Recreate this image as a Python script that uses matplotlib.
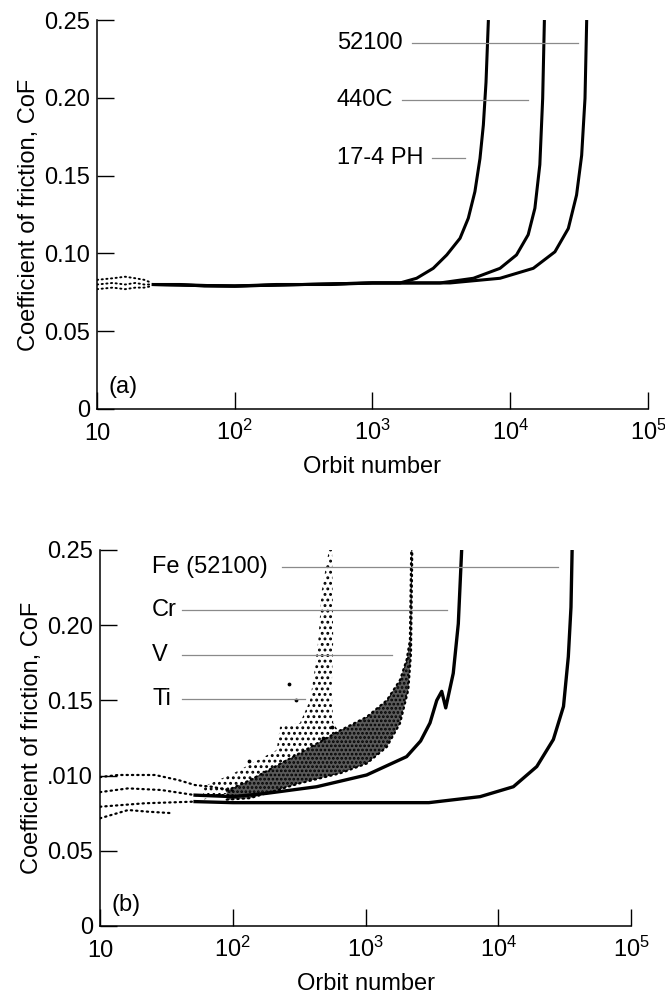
import matplotlib
matplotlib.use("Agg")
import matplotlib.pyplot as plt

plt.rcParams['font.family'] = ['Liberation Sans', 'DejaVu Sans']
plt.rcParams['mathtext.fontset'] = 'custom'
plt.rcParams['mathtext.rm'] = 'Liberation Sans'
plt.rcParams['hatch.linewidth'] = 1.3

# ---------------------------------------------------------------
# data
# ---------------------------------------------------------------
xticks = [10, 1e2, 1e3, 1e4, 1e5]
xtick_labels = ['10', r'$\mathregular{10^2}$', r'$\mathregular{10^3}$',
                r'$\mathregular{10^4}$', r'$\mathregular{10^5}$']
yticks = [0, 0.05, 0.10, 0.15, 0.20, 0.25]
ytick_labels_a = ['0', '0.05', '0.10', '0.15', '0.20', '0.25']
ytick_labels_b = ['0', '0.05', '.010', '0.15', '0.20', '0.25']

# (a) steels
a52100_x = [25, 40, 60, 100, 200, 500, 1000, 1585, 2090, 2760, 3460, 4320, 4960, 5540, 6030, 6380, 6670, 6940]
a52100_y = [0.080, 0.080, 0.079, 0.079, 0.080, 0.080, 0.081, 0.081, 0.084, 0.0904, 0.099, 0.1097, 0.1226, 0.1397, 0.161, 0.1825, 0.210, 0.250]
a440c_x = [25, 100, 1000, 3090, 5400, 8430, 11100, 13500, 15100, 16400, 17200, 17700]
a440c_y = [0.080, 0.079, 0.081, 0.081, 0.084, 0.0904, 0.099, 0.112, 0.129, 0.157, 0.1997, 0.250]
a174ph_x = [25, 100, 1000, 3660, 8430, 14700, 21100, 26400, 30300, 33000, 34900, 35900]
a174ph_y = [0.080, 0.079, 0.081, 0.081, 0.084, 0.0904, 0.101, 0.116, 0.1375, 0.163, 0.1997, 0.250]
# sparse start-up points (10-25 orbits)
a_start_x = [10, 13, 16, 19, 22, 25]
a_start_hi = [0.083, 0.084, 0.085, 0.084, 0.083, 0.081]
a_start_mid = [0.080, 0.081, 0.080, 0.081, 0.080, 0.080]
a_start_lo = [0.077, 0.078, 0.077, 0.078, 0.078, 0.079]

# (b) coatings -- sparse start-up rows (10-100 orbits)
b_row1_x = [10, 13.7, 26, 39, 52, 69, 100]
b_row1_y = [0.099, 0.1004, 0.1004, 0.097, 0.0937, 0.0926, 0.090]
b_row2_x = [10, 16.3, 29, 52, 100]
b_row2_y = [0.089, 0.0915, 0.0904, 0.087, 0.087]
b_row3_x = [10, 21.8, 52]
b_row3_y = [0.0793, 0.0816, 0.0827]
b_row4_x = [10, 16.3, 23, 35]
b_row4_y = [0.0716, 0.0771, 0.076, 0.075]
# solid bands
fe_x = [52, 100, 300, 1285, 3000, 7300, 13000, 19500, 26000, 31000, 33700, 35300, 36000]
fe_y = [0.0827, 0.082, 0.082, 0.082, 0.082, 0.086, 0.0926, 0.106, 0.124, 0.146, 0.179, 0.212, 0.250]
cr_x = [52, 100, 180, 429, 1020, 2040, 2600, 3060, 3440, 3750, 4020, 4580, 5000, 5300]
cr_y = [0.087, 0.086, 0.0882, 0.0926, 0.1004, 0.1126, 0.123, 0.135, 0.150, 0.156, 0.145, 0.168, 0.201, 0.250]
# dense V scatter band (upper / lower edge)
v_up_x = [90, 135, 321, 643, 1020, 1445, 1820, 2040, 2160, 2210]
v_up_y = [0.090, 0.097, 0.115, 0.130, 0.139, 0.150, 0.1636, 0.177, 0.190, 0.250]
v_lo_x = [90, 135, 321, 643, 1020, 1445, 1820, 2100, 2200, 2250]
v_lo_y = [0.084, 0.085, 0.0949, 0.1015, 0.108, 0.119, 0.1348, 0.157, 0.181, 0.250]
# sparse Ti scatter cloud (upper-left / lower-right edge)
ti_up_x = [60, 101, 214, 227, 321, 382, 417, 441, 468, 530]
ti_up_y = [0.0926, 0.1015, 0.117, 0.1325, 0.135, 0.150, 0.172, 0.190, 0.223, 0.250]
ti_lo_x = [60, 135, 321, 643, 571, 556, 571, 560]
ti_lo_y = [0.084, 0.092, 0.112, 0.128, 0.135, 0.157, 0.190, 0.250]
ti_out_x = [132, 267, 300, 480, 560]
ti_out_y = [0.110, 0.161, 0.150, 0.125, 0.132]

# labels + leader lines: (text, text x, y, line x0, line x1)
labels_a = [('52100', 552, 0.235, 1936, 31000),
            ('440C', 552, 0.1986, 1637, 13460),
            ('17-4 PH', 552, 0.161, 2705, 4700)]
labels_b = [('Fe (52100)', 24.7, 0.2387, 235, 28000),
            ('Cr', 24.7, 0.210, 41.5, 4090),
            ('V', 24.7, 0.180, 41.5, 1592),
            ('Ti', 24.7, 0.1507, 41.5, 350)]

FS = 17
dots = (0, (0.6, 1.8))

fig = plt.figure(figsize=(6.65, 9.96), dpi=100)
ax_a = fig.add_axes([0.1459, 0.5894, 0.8285, 0.3905])
ax_b = fig.add_axes([0.1504, 0.0703, 0.7985, 0.3775])


def style_axes(ax, ylabels):
    ax.set_xscale('log')
    ax.set_xlim(10, 1e5)
    ax.set_ylim(0, 0.25)
    ax.spines['top'].set_visible(False)
    ax.spines['right'].set_visible(False)
    for s in ('left', 'bottom'):
        ax.spines[s].set_linewidth(1.1)
    ax.set_xticks(xticks)
    ax.set_xticklabels(xtick_labels)
    ax.xaxis.set_minor_locator(matplotlib.ticker.NullLocator())
    ax.set_yticks(yticks)
    ax.set_yticklabels(ylabels)
    ax.tick_params(direction='in', length=12.5, width=1.0, labelsize=FS)
    ax.tick_params(axis='x', pad=22)
    ax.tick_params(axis='y', pad=5)
    for lab in ax.get_xticklabels():
        lab.set_va('baseline')
    ax.set_xlabel('Orbit number', fontsize=FS, labelpad=8)
    ax.set_ylabel('Coefficient of friction, CoF', fontsize=FS, labelpad=3)


style_axes(ax_a, ytick_labels_a)
style_axes(ax_b, ytick_labels_b)

# ---- (a)
for yy in (a_start_hi, a_start_mid, a_start_lo):
    ax_a.plot(a_start_x, yy, color='black', lw=1.4, ls=dots, dash_capstyle='round')
for xx, yy in ((a52100_x, a52100_y), (a440c_x, a440c_y), (a174ph_x, a174ph_y)):
    ax_a.plot(xx, yy, color='black', lw=2.2, solid_joinstyle='round', solid_capstyle='butt')
for txt, tx, ty, x0, x1 in labels_a:
    ax_a.text(tx, ty, txt, fontsize=FS, va='center', ha='left')
    ax_a.plot([x0, x1], [ty, ty], color='#8a8a8a', lw=0.9)
ax_a.text(12.2, 0.014, '(a)', fontsize=FS, va='center', ha='left')

# ---- (b)
for xx, yy in ((b_row1_x, b_row1_y), (b_row2_x, b_row2_y), (b_row3_x, b_row3_y), (b_row4_x, b_row4_y)):
    ax_b.plot(xx, yy, color='black', lw=1.6, ls=dots, dash_capstyle='round')
ax_b.fill(ti_up_x + ti_lo_x[::-1], ti_up_y + ti_lo_y[::-1], facecolor='none',
          edgecolor='black', hatch='...', lw=0)
ax_b.fill(v_up_x + v_lo_x[::-1], v_up_y + v_lo_y[::-1], facecolor='#5a5a5a',
          edgecolor='black', hatch='....', lw=0)
ax_b.plot(v_up_x, v_up_y, color='black', lw=1.6, ls=dots, dash_capstyle='round')
ax_b.plot(v_lo_x, v_lo_y, color='black', lw=1.6, ls=dots, dash_capstyle='round')
ax_b.plot(fe_x, fe_y, color='black', lw=2.4, solid_joinstyle='round')
ax_b.plot(cr_x, cr_y, color='black', lw=2.4, solid_joinstyle='round')
ax_b.scatter(ti_out_x, ti_out_y, s=3, color='black')
for txt, tx, ty, x0, x1 in labels_b:
    ax_b.text(tx, ty, txt, fontsize=FS, va='center', ha='left')
    ax_b.plot([x0, x1], [ty, ty], color='#8a8a8a', lw=0.9)
ax_b.text(12.2, 0.014, '(b)', fontsize=FS, va='center', ha='left')

fig.savefig('out.png', dpi=100)
